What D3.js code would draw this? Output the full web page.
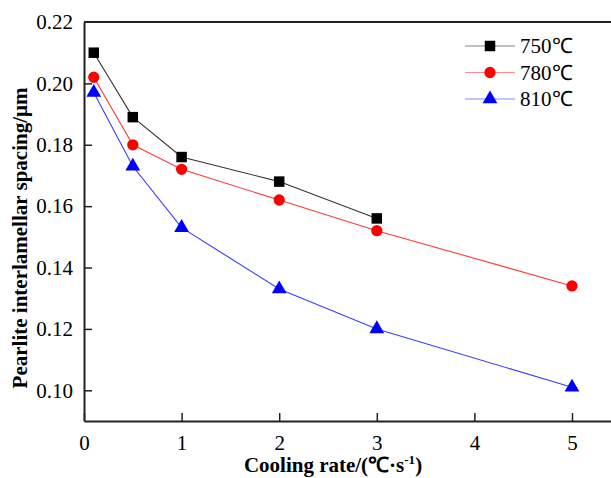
<!DOCTYPE html>
<html>
<head>
<meta charset="utf-8">
<style>
  body { margin: 0; background: #fff; }
  svg text { font-family: 'Liberation Serif', serif; fill: #000; }
</style>
<script src="https://cdnjs.cloudflare.com/ajax/libs/d3/7.8.5/d3.min.js"></script>
</head>
<body>
<div id="chart"></div>
<script>
const rates750 = [0.1, 0.5, 1, 2, 3];
const spacing750 = [0.210, 0.189, 0.176, 0.168, 0.156];
const rates780 = [0.1, 0.5, 1, 2, 3, 5];
const spacing780 = [0.202, 0.180, 0.172, 0.162, 0.152, 0.134];
const rates810 = [0.1, 0.5, 1, 2, 3, 5];
const spacing810 = [0.197, 0.173, 0.153, 0.133, 0.120, 0.101];
const seriesNames = ["750℃", "780℃", "810℃"];
const xTicks = [0, 1, 2, 3, 4, 5];
const yTicks = [0.10, 0.12, 0.14, 0.16, 0.18, 0.20, 0.22];

const w = 611, h = 478;
const padLeft = 84, padTop = 22, padBottom = 421;
const serif = "'Liberation Serif', serif";

const svg = d3.select("#chart").append("svg")
  .attr("width", w).attr("height", h)
  .style("font-family", serif);

const x = d3.scaleLinear().domain([0, 5.4]).range([padLeft, padLeft + 5.4 * 97.6]);
const y = d3.scaleLinear().domain([0.09, 0.22]).range([padBottom, padTop]);

// axes, ticks pointing inward
const xAxis = d3.axisBottom(x).tickValues(xTicks).tickFormat(d3.format("d"))
  .tickSizeInner(-8).tickSizeOuter(0).tickPadding(14);
const yAxis = d3.axisLeft(y).tickValues(yTicks).tickFormat(d3.format(".2f"))
  .tickSizeInner(-8).tickSizeOuter(0).tickPadding(11);

const gx = svg.append("g").attr("transform", "translate(0," + padBottom + ")").call(xAxis);
const gy = svg.append("g").attr("transform", "translate(" + padLeft + ",0)").call(yAxis);
[gx, gy].forEach(g => {
  g.attr("font-family", null).attr("font-size", null);
  g.selectAll("text").style("font-family", serif).style("font-size", "21px").attr("fill", "#000");
  g.selectAll("line").attr("stroke", "#222").attr("stroke-width", 1.5);
  g.select(".domain").attr("stroke", "#222").attr("stroke-width", 2);
});
gy.select(".tick:last-of-type line").remove();

// top frame
svg.append("line")
  .attr("x1", padLeft).attr("x2", w).attr("y1", padTop).attr("y2", padTop)
  .attr("stroke", "#222").attr("stroke-width", 2);

const series = [
  { name: seriesNames[0], xs: rates750, ys: spacing750, color: "#000", line: "#333", shape: d3.symbolSquare, size: 110 },
  { name: seriesNames[1], xs: rates780, ys: spacing780, color: "#f00", line: "#ff3b3b", shape: d3.symbolCircle, size: 100 },
  { name: seriesNames[2], xs: rates810, ys: spacing810, color: "#00f", line: "#3b3bff", shape: d3.symbolTriangle, size: 95 }
];

const line = d3.line().x(d => x(d[0])).y(d => y(d[1]));

series.forEach(s => {
  const pts = s.xs.map((v, i) => [v, s.ys[i]]);
  svg.append("path").attr("d", line(pts))
    .attr("fill", "none").attr("stroke", s.line).attr("stroke-width", 1.1);
  svg.selectAll(null).data(pts).enter().append("path")
    .attr("d", d3.symbol().type(s.shape).size(s.size))
    .attr("transform", d => "translate(" + x(d[0]) + "," + y(d[1]) + ")")
    .attr("fill", s.color);
});

// legend
const legend = svg.append("g");
series.forEach((s, i) => {
  const ly = 46 + i * 26.5;
  legend.append("line").attr("x1", 465).attr("x2", 515).attr("y1", ly).attr("y2", ly)
    .attr("stroke", s.line).attr("stroke-width", 1.2).attr("opacity", 0.6);
  legend.append("path").attr("d", d3.symbol().type(s.shape).size(s.size))
    .attr("transform", "translate(490," + ly + ")").attr("fill", s.color);
  legend.append("text").attr("x", 520).attr("y", ly + 7)
    .style("font-family", serif).style("font-size", "21px").text(s.name);
});

// axis titles
const xt = svg.append("text")
  .attr("x", 333).attr("y", 472).attr("text-anchor", "middle")
  .style("font-family", serif).style("font-size", "21px").style("font-weight", "bold");
xt.append("tspan").text("Cooling rate/(℃·s");
xt.append("tspan").attr("dy", -8).style("font-size", "13px").text("-1");
xt.append("tspan").attr("dy", 8).text(")");

svg.append("text")
  .attr("transform", "translate(27," + 238 + ") rotate(-90)")
  .attr("text-anchor", "middle")
  .style("font-family", serif).style("font-size", "21px").style("font-weight", "bold")
  .text("Pearlite interlamellar spacing/μm");
</script>
</body>
</html>
